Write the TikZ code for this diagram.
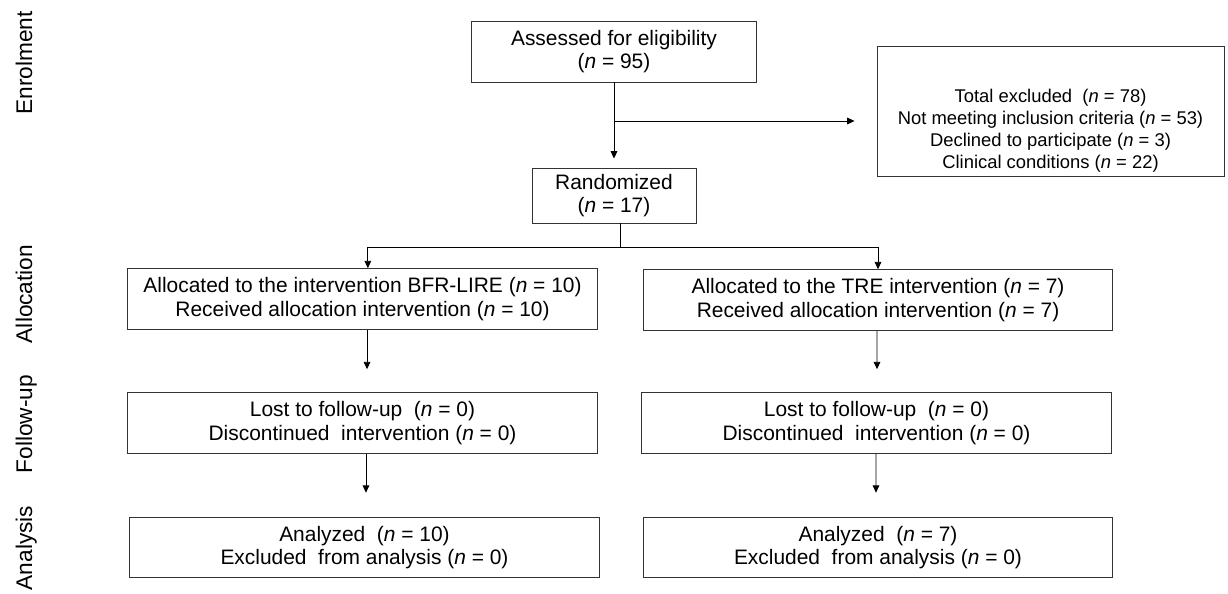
\documentclass[tikz,border=0pt]{standalone}
\usepackage{fontspec}
\setmainfont{Liberation Sans}
\usetikzlibrary{arrows.meta}

\tikzset{
  box/.style={draw=black!80, line width=0.7pt, align=center, inner sep=0pt,
              font=\fontsize{15.7}{17.7}\selectfont},
  colbox/.style={box, minimum width=352pt, minimum height=45.5pt},
  arr/.style={-{Triangle[length=5.5pt,width=5pt]}, line width=0.6pt},
  phase/.style={rotate=90, anchor=base, font=\fontsize{17}{20}\selectfont},
}

\begin{document}
\begin{tikzpicture}[x=0.75pt,y=-0.75pt]
\useasboundingbox (0,0) rectangle (1228,593);

% stages on the left
\node[phase] (enrol) at (32,63)  {Enrolment};
\node[phase] (alloc) at (32,294) {Allocation};
\node[phase] (follow) at (32,424) {Follow-up};
\node[phase] (anal) at (32,548)  {Analysis};

% enrolment
\node[box, minimum width=213.75pt, minimum height=45.75pt] (assess) at (614,51.5)
     {Assessed for eligibility\\(\textit{n} = 95)};
\node[box, minimum width=260.25pt, minimum height=97.5pt] (excl) at (1050.5,111) {};
\node[align=center, font=\fontsize{13.8}{16.5}\selectfont] (excltxt) at (1050.5,131)
     {Total excluded\ \ (\textit{n} = 78)\\
      Not meeting inclusion criteria (\textit{n} = 53)\\
      Declined to participate (\textit{n} = 3)\\
      Clinical conditions (\textit{n} = 22)};
\node[box, minimum width=123pt, minimum height=41.25pt] (rand) at (614,195.5)
     {Randomized\\(\textit{n} = 17)};

% allocation
\node[colbox] (allocL) at (362.5,299)
     {Allocated to the intervention BFR-LIRE (\textit{n} = 10)\\
      Received allocation intervention (\textit{n} = 10)};
\node[colbox] (allocR) at (878,300)
     {Allocated to the TRE intervention (\textit{n} = 7)\\
      Received allocation intervention (\textit{n} = 7)};

% follow-up
\node[colbox] (fupL) at (362.5,423)
     {Lost to follow-up\ \ (\textit{n} = 0)\\
      Discontinued\ \ intervention (\textit{n} = 0)};
\node[colbox] (fupR) at (876.5,423)
     {Lost to follow-up\ \ (\textit{n} = 0)\\
      Discontinued\ \ intervention (\textit{n} = 0)};

% analysis
\node[colbox] (anaL) at (364.5,547.5)
     {Analyzed\ \ (\textit{n} = 10)\\
      Excluded\ \ from analysis (\textit{n} = 0)};
\node[colbox] (anaR) at (878,547.5)
     {Analyzed\ \ (\textit{n} = 7)\\
      Excluded\ \ from analysis (\textit{n} = 0)};

% connectors
\coordinate (exit) at ([yshift=-7.5pt]excl.west);
\coordinate (split) at ([xshift=5pt,yshift=-18pt]rand.south);
\coordinate (inL) at ([xshift=4pt]allocL.north);

\draw[arr, shorten >=6.75pt] (assess.south) -- (rand.north);
\draw[arr, shorten >=16.5pt] (assess.south |- exit) -- (exit);
\draw[line width=0.6pt] (rand.south -| split) -- (split);
\draw[line width=0.6pt] (inL |- split) -- (allocR.north |- split);
\draw[arr] (inL |- split) -- (inL);
\draw[arr] (allocR.north |- split) -- (allocR.north);

\draw[arr, shorten >=17.25pt] ([xshift=3.4pt]allocL.south) -- ([xshift=3.4pt]fupL.north);
\draw[arr, shorten >=18pt] ([xshift=2.6pt]fupL.south) -- ([xshift=1.1pt]anaL.north);
\draw[arr, shorten >=17.25pt] ([xshift=-0.75pt]allocR.south) -- ([xshift=0.4pt]fupR.north);
\draw[arr, shorten >=18pt] ([xshift=-0.4pt]fupR.south) -- ([xshift=-1.5pt]anaR.north);
\end{tikzpicture}
\end{document}
